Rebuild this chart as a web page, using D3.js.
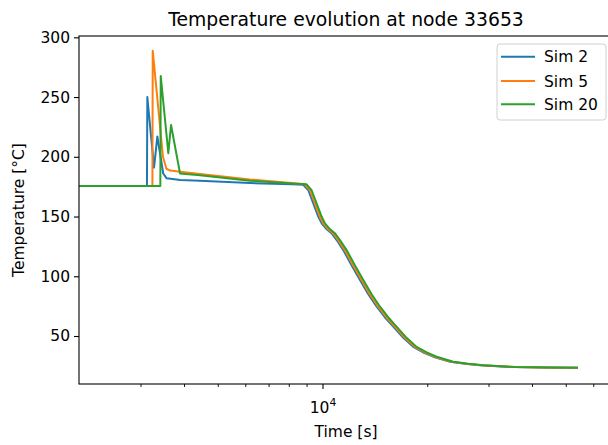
<!DOCTYPE html>
<html>
<head>
<meta charset="utf-8">
<script src="https://cdn.jsdelivr.net/npm/d3@7/dist/d3.min.js"></script>
<style>
  html, body { margin: 0; padding: 0; background: #fff; }
  svg { display: block; font-family: "DejaVu Sans", sans-serif; }
</style>
</head>
<body>
<svg id="chart" width="608" height="445"></svg>
<script>
// ---- data ----
const seriesNames = ["Sim 2", "Sim 5", "Sim 20"];
const seriesColors = ["#1f77b4", "#ff7f0e", "#2ca02c"];

const timeSim2 = [2000, 3130, 3138, 3280, 3353, 3486, 3566, 3900, 4446, 6190, 8200, 8807, 9105, 9410, 9725, 9947, 10282, 10627, 10985, 11476, 12132, 12816, 13540, 14313, 15124, 15972, 17070, 18235, 19490, 20818, 23247, 25680, 28357, 35278, 43590, 53850];
const tempSim2 = [175.5, 175.5, 250, 191, 217, 186, 182, 180.5, 180, 178, 177, 176.5, 172, 161, 150, 144.3, 139.3, 135.9, 130.3, 121.9, 109, 96.9, 85, 74.5, 65.5, 57.8, 48.5, 40.9, 36.2, 32.7, 28.5, 26.8, 25.5, 24, 23.6, 23.5];

const timeSim5 = [2000, 3245, 3252, 3480, 3560, 3650, 3900, 4446, 6190, 8617, 8900, 9200, 9505, 9820, 10050, 10385, 10735, 11095, 11590, 12250, 12945, 13675, 14455, 15275, 16130, 17240, 18420, 19685, 21025, 23480, 25940, 28640, 35630, 44000, 53850];
const tempSim5 = [175.5, 175.5, 288.8, 200, 190, 188.5, 187.5, 185.5, 181, 177.5, 177, 172, 161, 150, 144.3, 139.3, 135.9, 130.3, 121.9, 109, 96.9, 85, 74.5, 65.5, 57.8, 48.5, 40.9, 36.2, 32.7, 28.5, 26.8, 25.5, 24, 23.6, 23.5];

const timeSim20 = [2000, 3420, 3429, 3605, 3671, 3896, 4446, 6190, 8617, 9000, 9305, 9615, 9940, 10165, 10510, 10860, 11225, 11730, 12400, 13100, 13840, 14630, 15460, 16320, 17445, 18635, 19920, 21275, 23760, 26245, 28980, 36000, 44300, 53850];
const tempSim20 = [175.5, 175.5, 267.6, 203, 226.6, 186, 184.5, 180, 177.3, 177, 172, 161, 150, 144.3, 139.3, 135.9, 130.3, 121.9, 109, 96.9, 85, 74.5, 65.5, 57.8, 48.5, 40.9, 36.2, 32.7, 28.5, 26.8, 25.5, 24, 23.6, 23.5];

const yTicks = [50, 100, 150, 200, 250, 300];
const xMajorTicks = [10000];
const xMinorTicks = [3000, 4000, 5000, 6000, 7000, 8000, 9000, 20000, 30000, 40000, 50000, 60000];

const titleText = "Temperature evolution at node 33653";
const xLabelText = "Time [s]";
const yLabelText = "Temperature [°C]";

// ---- layout ----
const L = 79, R = 613, T = 36, B = 384;
const svg = d3.select("#chart");

const x = d3.scaleLog()
  .domain([Math.pow(10, 4 - (322.5 - L) / 348), Math.pow(10, 4 + (R - 322.5) / 348)])
  .range([L, R]);
const y = d3.scaleLinear().domain([9.83, 301.1]).range([B, T]);

svg.append("defs").append("clipPath").attr("id", "clip")
  .append("rect").attr("x", L).attr("y", T).attr("width", R - L).attr("height", B - T);

// lines
const series = [
  { name: seriesNames[0], t: timeSim2, v: tempSim2, c: seriesColors[0] },
  { name: seriesNames[1], t: timeSim5, v: tempSim5, c: seriesColors[1] },
  { name: seriesNames[2], t: timeSim20, v: tempSim20, c: seriesColors[2] }
];
const line = d3.line().x(d => x(d[0])).y(d => y(d[1]));
const gLines = svg.append("g").attr("clip-path", "url(#clip)");
series.forEach(s => {
  gLines.append("path")
    .attr("d", line(s.t.map((t, i) => [t, s.v[i]])))
    .attr("fill", "none")
    .attr("stroke", s.c)
    .attr("stroke-width", 2)
    .attr("stroke-linejoin", "round")
    .attr("stroke-linecap", "square");
});

// axes
const fs = 15.5;
const yAxis = d3.axisLeft(y).tickValues(yTicks).tickSize(5).tickPadding(4).tickFormat(d3.format("d"));
const gy = svg.append("g").attr("transform", `translate(${L},0)`).call(yAxis);
gy.select(".domain").remove();
gy.selectAll("line").attr("stroke", "#000").attr("stroke-width", 1.1);
gy.selectAll("text").attr("font-size", fs).attr("fill", "#000").attr("font-family", "DejaVu Sans");

const xMinor = d3.axisBottom(x).tickValues(xMinorTicks).tickSize(3).tickFormat("");
const gxm = svg.append("g").attr("transform", `translate(0,${B})`).call(xMinor);
gxm.select(".domain").remove();
gxm.selectAll("line").attr("stroke", "#000").attr("stroke-width", 0.9);

const xMajor = d3.axisBottom(x).tickValues(xMajorTicks).tickSize(5).tickFormat("");
const gxM = svg.append("g").attr("transform", `translate(0,${B})`).call(xMajor);
gxM.select(".domain").remove();
gxM.selectAll("line").attr("stroke", "#000").attr("stroke-width", 1.1);
gxM.selectAll(".tick").each(function(d) {
  const e = Math.round(Math.log10(d));
  const t = d3.select(this).append("text")
    .attr("y", 29).attr("text-anchor", "middle").attr("fill", "#000")
    .attr("font-size", fs).attr("font-family", "DejaVu Sans");
  t.append("tspan").text("10");
  t.append("tspan").attr("dy", -7).attr("font-size", fs * 0.7).text(String(e));
});

// spines
svg.append("rect").attr("x", L).attr("y", T).attr("width", R - L).attr("height", B - T)
  .attr("fill", "none").attr("stroke", "#000").attr("stroke-width", 1.1);

// title & labels
svg.append("text").attr("x", (L + R) / 2).attr("y", 26).attr("text-anchor", "middle")
  .attr("font-size", 18.8).attr("fill", "#000").text(titleText);
svg.append("text").attr("x", (L + R) / 2).attr("y", 437).attr("text-anchor", "middle")
  .attr("font-size", fs).attr("fill", "#000").text(xLabelText);
svg.append("text").attr("transform", `translate(24,${(T + B) / 2}) rotate(-90)`)
  .attr("text-anchor", "middle").attr("font-size", fs).attr("fill", "#000").text(yLabelText);

// legend
const lg = svg.append("g");
lg.append("rect").attr("x", 497).attr("y", 44).attr("width", 109).attr("height", 76)
  .attr("rx", 3).attr("fill", "#fff").attr("fill-opacity", 0.8)
  .attr("stroke", "#d0d0d0").attr("stroke-width", 1);
const rowY = [56.7, 81, 104.3];
series.forEach((s, i) => {
  lg.append("line").attr("x1", 501).attr("x2", 535).attr("y1", rowY[i]).attr("y2", rowY[i])
    .attr("stroke", s.c).attr("stroke-width", 2);
  lg.append("text").attr("x", 544).attr("y", rowY[i]).attr("dy", "0.36em")
    .attr("font-size", fs).attr("fill", "#000").text(s.name);
});
</script>
</body>
</html>
